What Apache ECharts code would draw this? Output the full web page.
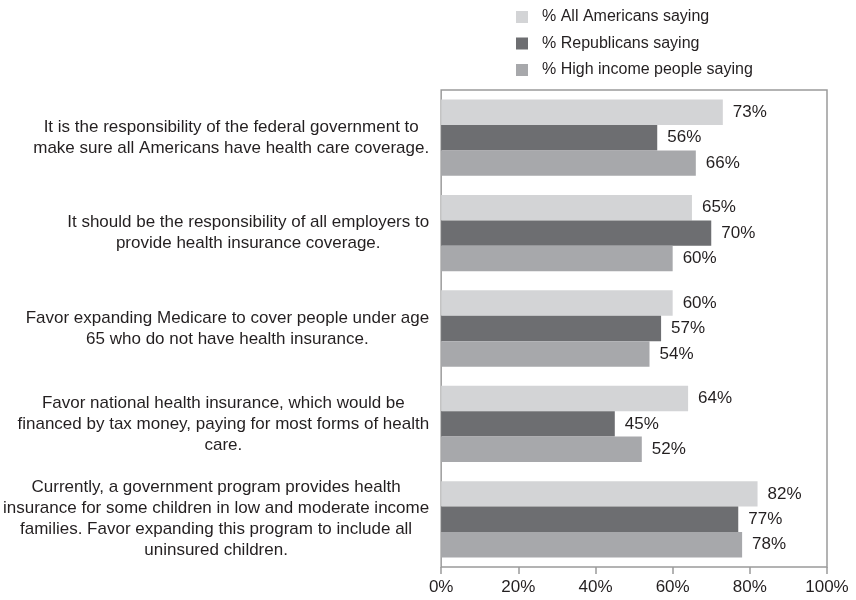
<!DOCTYPE html>
<html>
<head>
<meta charset="utf-8">
<script src="https://cdn.jsdelivr.net/npm/echarts@6/dist/echarts.min.js"></script>
<style>
  html, body { margin: 0; padding: 0; background: #fff; }
  #chart { width: 856px; height: 600px; }
</style>
</head>
<body>
<div id="chart"></div>
<script>
// Survey statements (line breaks as set in the label block)
const categories = [
  "It is the responsibility of the federal government to\nmake sure all Americans have health care coverage.",
  "It should be the responsibility of all employers to\nprovide health insurance coverage.",
  "Favor expanding Medicare to cover people under age\n65 who do not have health insurance.",
  "Favor national health insurance, which would be\nfinanced by tax money, paying for most forms of health\ncare.",
  "Currently, a government program provides health\ninsurance for some children in low and moderate income\nfamilies. Favor expanding this program to include all\nuninsured children."
];

const seriesNames = ["% All Americans saying", "% Republicans saying", "% High income people saying"];

// Percent agreeing, per statement
const allAmericans = [73, 65, 60, 64, 82];
const republicans  = [56, 70, 57, 45, 77];
const highIncome   = [66, 60, 54, 52, 78];

const xTicks = [0, 20, 40, 60, 80, 100];

const font = "'Liberation Sans', Arial, Helvetica, sans-serif";
const textColor = "#231f20";
const colors = ["#d3d4d6", "#6d6e71", "#a7a8ab"];

const chart = echarts.init(document.getElementById("chart"), null, { renderer: "canvas" });

function barSeries(name, data, color) {
  return {
    name: name,
    type: "bar",
    data: data,
    barGap: "0%",
    barCategoryGap: "20%",
    itemStyle: { color: color },
    label: {
      show: true,
      position: "right",
      distance: 10,
      formatter: p => p.value + "%",
      color: textColor,
      fontFamily: font,
      fontSize: 17
    },
    emphasis: { disabled: true }
  };
}

chart.setOption({
  animation: false,
  textStyle: { fontFamily: font },
  legend: {
    orient: "vertical",
    left: 516,
    top: 9,
    padding: 0,
    itemWidth: 12,
    itemHeight: 12,
    itemGap: 10.5,
    icon: "rect",
    data: seriesNames,
    textStyle: { fontFamily: font, fontSize: 16, color: textColor, padding: [0, 0, 0, 9] }
  },
  grid: {
    left: 440,
    right: 29,
    top: 90,
    bottom: 33,
    show: true,
    borderColor: "#9b9b9b",
    borderWidth: 1.5,
    containLabel: false
  },
  xAxis: {
    type: "value",
    min: xTicks[0],
    max: xTicks[xTicks.length - 1],
    interval: 20,
    axisLine: { show: false },
    axisTick: { show: true, length: 7, lineStyle: { color: "#9b9b9b", width: 1.5 } },
    splitLine: { show: false },
    axisLabel: {
      formatter: v => v + "%",
      color: textColor,
      fontFamily: font,
      fontSize: 17,
      margin: 12
    }
  },
  yAxis: {
    type: "category",
    inverse: true,
    data: categories,
    axisLine: { show: false },
    axisTick: { show: false },
    axisLabel: {
      margin: 12,
      formatter: v => v.split("\n").map(l => "{c|" + l + "}").join("\n"),
      rich: {
        c: { align: "center", fontFamily: font, fontSize: 17, color: textColor, lineHeight: 21 }
      }
    }
  },
  series: [
    barSeries(seriesNames[0], allAmericans, colors[0]),
    barSeries(seriesNames[1], republicans, colors[1]),
    barSeries(seriesNames[2], highIncome, colors[2])
  ]
});
</script>
</body>
</html>
